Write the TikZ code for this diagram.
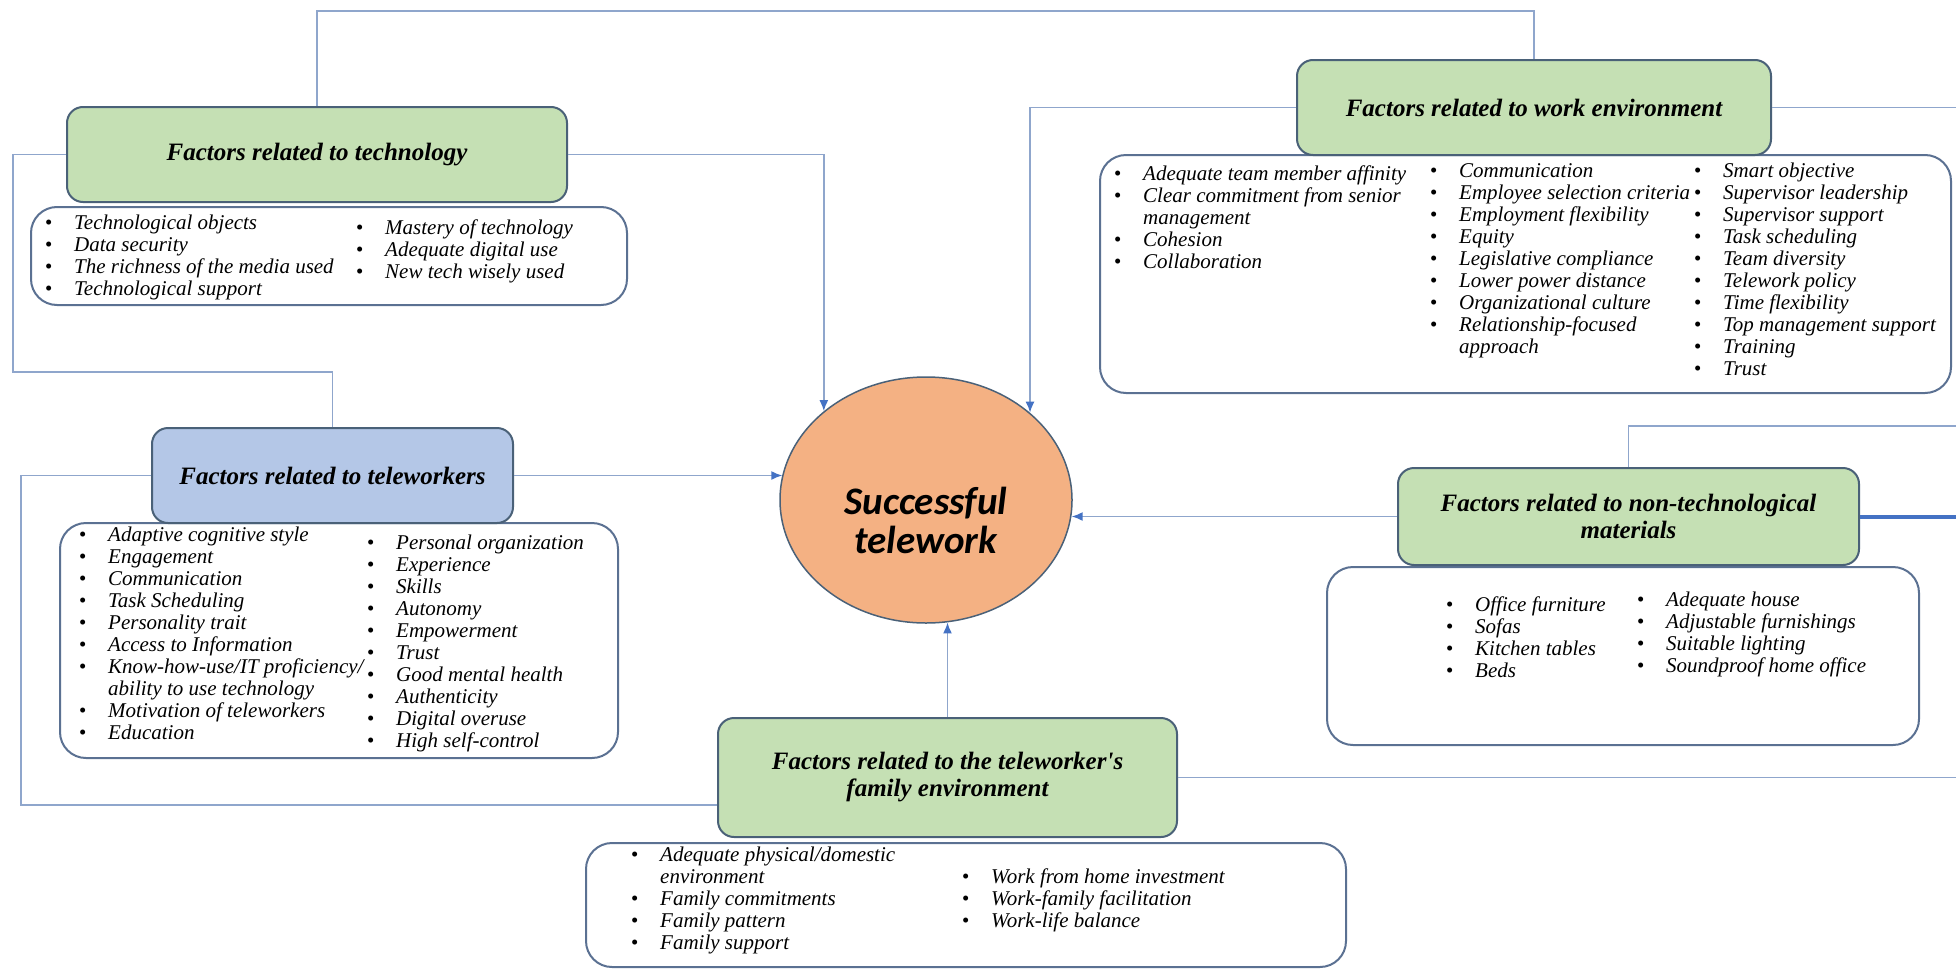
\documentclass[tikz,border=0pt]{standalone}
\usepackage{fontspec}
\setmainfont{Liberation Serif}
\newfontfamily\circfont{Carlito}
\usetikzlibrary{shapes.geometric,arrows.meta,calc}
\definecolor{hdgreen}{HTML}{C5E0B4}
\definecolor{hdblue}{HTML}{B4C7E7}
\definecolor{circfill}{HTML}{F4B183}
\definecolor{hdborder}{HTML}{4A6178}
\definecolor{bodyborder}{HTML}{5B7192}
\definecolor{connc}{HTML}{8FA6CC}
\definecolor{arrc}{HTML}{4472C4}
\newcommand{\bb}{\leavevmode\llap{\textbullet\hspace{22pt}}}
\begin{document}
\begin{tikzpicture}[x=1pt,y=-1pt,
 header/.style={draw=hdborder, line width=2pt, rounded corners=16pt, fill=hdgreen, align=center, inner sep=0pt, font=\fontsize{25}{27}\selectfont\bfseries\itshape},
 body/.style={draw=bodyborder, line width=2pt, rounded corners=26pt, fill=white, inner sep=0pt},
 items/.style={anchor=north west, align=left, inner sep=0pt, font=\fontsize{21}{22}\selectfont\itshape},
 conn/.style={draw=connc, line width=1.8pt},
 arr/.style={conn, -{Latex[length=11pt,width=9pt,color=arrc]}}
]
\fill[white] (0,0) rectangle (1956,969);
\useasboundingbox (0,0) rectangle (1956,969);

% bodies
\node[body, minimum width=596pt, minimum height=98pt] (techb) at (329,256) {};
\node[body, minimum width=851pt, minimum height=238pt] (workb) at (1525.5,274) {};
\node[body, minimum width=558pt, minimum height=235pt] (twb) at (339,640.5) {};
\node[body, minimum width=592pt, minimum height=178pt] (ntb) at (1623,656) {};
\node[body, minimum width=760pt, minimum height=124pt] (famb) at (966,905) {};

% headers
\node[header, minimum width=500pt, minimum height=95pt] (tech) at (317,154.5) {Factors related to technology};
\node[header, minimum width=474pt, minimum height=95pt] (work) at (1534,107.5) {Factors related to work environment};
\node[header, fill=hdblue, minimum width=361pt, minimum height=95pt] (tw) at (332.5,475.5) {Factors related to teleworkers};
\node[header, minimum width=461pt, minimum height=97pt] (nt) at (1628.5,516.5) {Factors related to non-technological\\materials};
\node[header, minimum width=459pt, minimum height=119pt] (fam) at (947.5,777.5) {Factors related to the teleworker\textquotesingle s\\family environment};

% circle
\node[ellipse, draw=hdborder, line width=1.5pt, fill=circfill, minimum width=292pt, minimum height=246pt, inner sep=0pt] (circ) at (926,500) {};
\node[font=\circfont\fontsize{39}{39}\selectfont\bfseries\itshape, align=center, inner sep=0pt] (circt) at (926,520) {Successful\\telework};

% item lists
\node[items] (tech1) at (74,215) {\bb Technological objects\\\bb Data security\\\bb The richness of the media used\\\bb Technological support};
\node[items] (tech2) at (385,220) {\bb Mastery of technology\\\bb Adequate digital use\\\bb New tech wisely used};

\node[items] (work1) at (1143,166) {\bb Adequate team member affinity\\\bb Clear commitment from senior\\management\\\bb Cohesion\\\bb Collaboration};
\node[items] (work2) at (1459,163) {\bb Communication\\\bb Employee selection criteria\\\bb Employment flexibility\\\bb Equity\\\bb Legislative compliance\\\bb Lower power distance\\\bb Organizational culture\\\bb Relationship-focused\\approach};
\node[items] (work3) at (1723,163) {\bb Smart objective\\\bb Supervisor leadership\\\bb Supervisor support\\\bb Task scheduling\\\bb Team diversity\\\bb Telework policy\\\bb Time flexibility\\\bb Top management support\\\bb Training\\\bb Trust};

\node[items] (tw1) at (108,527) {\bb Adaptive cognitive style\\\bb Engagement\\\bb Communication\\\bb Task Scheduling\\\bb Personality trait\\\bb Access to Information\\\bb Know-how-use/IT proficiency/\\ability to use technology\\\bb Motivation of teleworkers\\\bb Education};
\node[items] (tw2) at (396,535) {\bb Personal organization\\\bb Experience\\\bb Skills\\\bb Autonomy\\\bb Empowerment\\\bb Trust\\\bb Good mental health\\\bb Authenticity\\\bb Digital overuse\\\bb High self-control};

\node[items] (nt1) at (1475,597) {\bb Office furniture\\\bb Sofas\\\bb Kitchen tables\\\bb Beds};
\node[items] (nt2) at (1666,592) {\bb Adequate house\\\bb Adjustable furnishings\\\bb Suitable lighting\\\bb Soundproof home office};

\node[items] (fam1) at (660,847) {\bb Adequate physical/domestic\\environment\\\bb Family commitments\\\bb Family pattern\\\bb Family support};
\node[items] (fam2) at (991,869) {\bb Work from home investment\\\bb Work-family facilitation\\\bb Work-life balance};

% connectors
\coordinate (top) at (0,11);
\coordinate (RE) at (1956,0);
\coordinate (L1) at (13,372);
\coordinate (L2) at (21,805);
\coordinate (R2) at (1956,426);
\draw[conn] (tech.north) -- (tech.north |- top) -| (work.north);
\draw[conn] (tech.west) -| (L1) -| (tw.north);
\draw[arr] (tech.east) -| (circ.139.8);
\draw[arr] (work.west) -| (circ.40.5);
\draw[conn] (work.east) -- (work.east -| RE);
\draw[conn] (tw.west) -| (L2) -- (L2 -| fam.west);
\draw[arr] (tw.east) -- (tw.east -| circ.170.9);
\draw[arr] (nt.west) -- (nt.west -| circ.-6.7);
\draw[conn] (nt.north) |- (R2);
\draw[conn, draw=arrc, line width=4pt] (nt.east) -- (nt.east -| RE);
\draw[arr] (fam.north) -- (fam.north |- circ.-80.2);
\draw[conn] (fam.east) -- (fam.east -| RE);
\end{tikzpicture}
\end{document}
